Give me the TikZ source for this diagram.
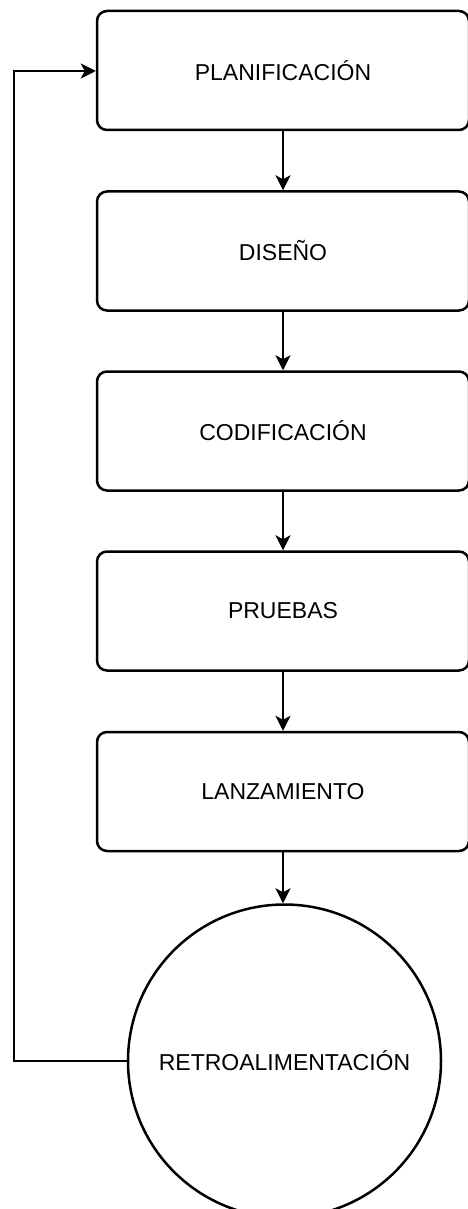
\documentclass[tikz,border=0pt]{standalone}
\usepackage{fontspec}
\setmainfont{Liberation Sans}
\usetikzlibrary{arrows.meta}
\begin{document}
\begin{tikzpicture}[x=1pt,y=-1pt,
  stagebox/.style={draw=black, line width=2.5pt, rounded corners=10pt, fill=white,
    minimum width=372pt, minimum height=119pt, inner sep=0pt, font=\fontsize{23}{27}\selectfont},
  loopcircle/.style={draw=black, line width=2.5pt, circle, fill=white,
    minimum size=313pt, inner sep=0pt, font=\fontsize{23}{27}\selectfont},
  flow/.style={draw=black, line width=1.4pt, -{Stealth[length=15pt,width=15pt,inset=4pt]}}]
\useasboundingbox (0,0) rectangle (468,1209);
\fill[white] (0,0) rectangle (468,1209);
\node[stagebox] (b1) at (283,70.5) {PLANIFICACIÓN};
\node[stagebox] (b2) at (283,251) {DISEÑO};
\node[stagebox] (b3) at (283,431) {CODIFICACIÓN};
\node[stagebox] (b4) at (283,611) {PRUEBAS};
\node[stagebox] (b5) at (283,791.5) {LANZAMIENTO};
\node[loopcircle] (c) at (284.5,1061) {RETROALIMENTACIÓN};
\coordinate (lb) at (14,1061);
\coordinate (lt) at (14,71);
\draw[flow] (b1.south) -- (b2.north);
\draw[flow] (b2.south) -- (b3.north);
\draw[flow] (b3.south) -- (b4.north);
\draw[flow] (b4.south) -- (b5.north);
\draw[flow] (b5.south) -- (b5.south |- c.north);
\draw[flow] (c.west) -- (lb) -- (lt) -- (b1.west |- lt);
\end{tikzpicture}
\end{document}
